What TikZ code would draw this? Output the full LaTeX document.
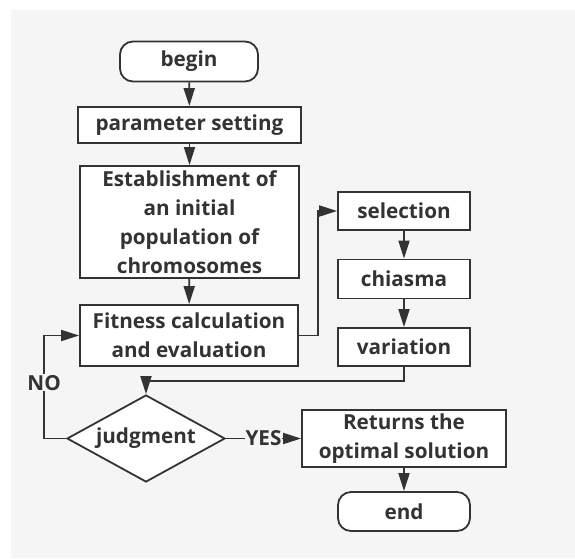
\documentclass[tikz,border=0pt]{standalone}
\usepackage{fontspec}
\setmainfont{Open Sans}
\usetikzlibrary{arrows.meta,shapes.geometric}
\definecolor{bg}{HTML}{F5F5F5}
\definecolor{ink}{HTML}{333333}
\tikzset{
  box/.style={draw=ink, line width=1.8pt, fill=white, text=ink, font=\fontsize{20.7}{29}\selectfont\bfseries, align=center, inner sep=0pt},
  term/.style={box, rounded corners=13pt},
  dec/.style={box, diamond, aspect=1.8},
  arr/.style={draw=ink, line width=1.8pt, -{Triangle[length=18pt,width=11pt]}},
  lbl/.style={fill=bg, text=ink, font=\fontsize{20.7}{29}\selectfont\bfseries, inner sep=1pt}
}
\begin{document}
\begin{tikzpicture}[x=1pt,y=-1pt]
\useasboundingbox (0,0) rectangle (575,558);
\fill[bg] (11,10) rectangle (575,558);
\node[term, minimum width=138, minimum height=40] (begin) at (189,61.5) {begin};
\node[box, minimum width=223, minimum height=36] (param) at (189.5,125) {parameter setting};
\node[box, minimum width=219, minimum height=112] (estab) at (189.5,222) {Establishment of\\an initial\\population of\\chromosomes};
\node[box, minimum width=218, minimum height=61] (fit) at (189,335.5) {Fitness calculation\\and evaluation};
\node[box, minimum width=132, minimum height=38] (sel) at (404,211) {selection};
\node[box, minimum width=132, minimum height=39] (chi) at (404,279) {chiasma};
\node[box, minimum width=132, minimum height=38] (var) at (404,347) {variation};
\node[dec, minimum width=158, minimum height=87] (dia) at (146,438.5) {judgment};
\node[box, minimum width=204, minimum height=57] (ret) at (404,438.5) {Returns the\\optimal solution};
\node[term, minimum width=132, minimum height=39] (end) at (404,511.5) {end};
\coordinate (jx) at (318,0);
\draw[arr] (begin) -- (param);
\draw[arr] (param) -- (estab);
\draw[arr] (estab) -- (fit);
\draw[arr] (fit.east) -- (fit.east -| jx) |- (sel.west);
\draw[arr] (sel) -- (chi);
\draw[arr] (chi) -- (var);
\draw[arr] (var.south) -- ++(0,14) -| (dia.north);
\draw[arr] (dia.west) -- ++(-22,0) |- node[lbl, pos=0.27] (no) {NO} (fit.west);
\draw[arr] (dia.east) -- node[lbl] (yes) {YES} (ret.west);
\draw[arr] (ret) -- (end);
\end{tikzpicture}
\end{document}
